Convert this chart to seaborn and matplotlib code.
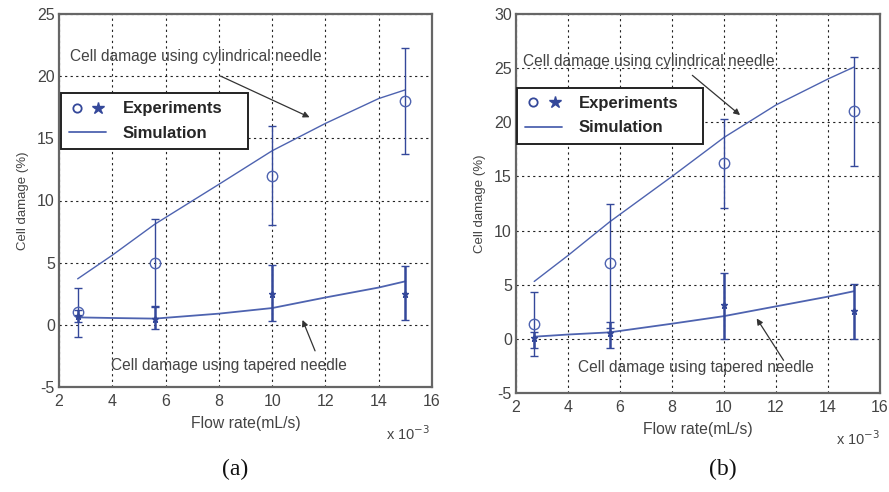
import numpy as np
import pandas as pd
import matplotlib
matplotlib.use("Agg")
import matplotlib.pyplot as plt
import seaborn as sns
from matplotlib.lines import Line2D
from matplotlib.legend_handler import HandlerTuple

sns.set_style("white")
plt.rcParams['font.family'] = ['Liberation Sans', 'DejaVu Sans']
plt.rcParams['axes.unicode_minus'] = False

# ---- data (flow rate in units of 1e-3 mL/s) ----
sim_x = [2.7, 4, 5.6, 8, 10, 12, 14, 15]
exp_x = [2.7, 5.6, 10, 15]

# panel (a)
a_cyl_sim = [3.7, 5.6, 8.1, 11.3, 14.0, 16.2, 18.2, 18.9]
a_tap_sim = [0.6, 0.55, 0.5, 0.9, 1.35, 2.2, 3.0, 3.5]
a_cyl_exp = [1.0, 5.0, 12.0, 18.0]
a_cyl_lo = [-1.0, 1.5, 8.0, 13.7]
a_cyl_hi = [3.0, 8.5, 16.0, 22.3]
a_tap_exp = [0.7, 0.5, 2.5, 2.5]
a_tap_lo = [0.2, -0.3, 0.3, 0.4]
a_tap_hi = [1.2, 1.4, 4.8, 4.7]

# panel (b)
b_cyl_sim = [5.3, 7.7, 10.8, 15.0, 18.6, 21.6, 24.0, 25.1]
b_tap_sim = [0.2, 0.4, 0.6, 1.4, 2.1, 3.0, 3.9, 4.4]
b_cyl_exp = [1.4, 7.0, 16.2, 21.0]
b_cyl_lo = [-1.6, 1.0, 12.1, 16.0]
b_cyl_hi = [4.3, 12.5, 20.3, 26.0]
b_tap_exp = [0.1, 0.5, 3.1, 2.6]
b_tap_lo = [-0.8, -0.8, 0.0, 0.0]
b_tap_hi = [0.6, 1.6, 6.1, 5.1]

x_ticks = [2, 4, 6, 8, 10, 12, 14, 16]
legend_labels = ["Experiments", "Simulation"]

LINE = "#4e63b0"
ERR = "#34489a"
TXT = "#444444"

fig = plt.figure(figsize=(8.89, 4.92), dpi=100)
fig.patch.set_facecolor("white")

panels = [
    dict(rect=[59/889, 1-387/492, 373/889, 373/492], ylim=(-5, 25), yt=[-5, 0, 5, 10, 15, 20, 25],
         cs=a_cyl_sim, ts=a_tap_sim, ce=a_cyl_exp, cl=a_cyl_lo, ch=a_cyl_hi,
         te=a_tap_exp, tl=a_tap_lo, th=a_tap_hi,
         cyl_txt=(2.4, 21.6), cyl_arr=((7.97, 20.1), (11.5, 16.6)),
         tap_txt=(3.95, -3.3), tap_arr=((11.65, -2.3), (11.1, 0.6)),
         leg=(0.005, 0.788), legw=0.502, lab="(a)", labx=235/889,
         ex=(430/889, 1-434/492)),
    dict(rect=[516/889, 1-393/492, 364/889, 379/492], ylim=(-5, 30), yt=[-5, 0, 5, 10, 15, 20, 25, 30],
         cs=b_cyl_sim, ts=b_tap_sim, ce=b_cyl_exp, cl=b_cyl_lo, ch=b_cyl_hi,
         te=b_tap_exp, tl=b_tap_lo, th=b_tap_hi,
         cyl_txt=(2.27, 25.6), cyl_arr=((8.7, 24.5), (10.7, 20.5)),
         tap_txt=(4.4, -2.6), tap_arr=((12.35, -2.2), (11.2, 2.1)),
         leg=(0.003, 0.805), legw=0.511, lab="(b)", labx=723/889,
         ex=(880/889, 1-439/492)),
]

for p in panels:
    ax = fig.add_axes(p["rect"])
    df_c = pd.DataFrame({"x": sim_x, "y": p["cs"]})
    df_t = pd.DataFrame({"x": sim_x, "y": p["ts"]})
    sns.lineplot(data=df_c, x="x", y="y", ax=ax, color=LINE, lw=1.0, zorder=3)
    sns.lineplot(data=df_t, x="x", y="y", ax=ax, color=LINE, lw=1.3, zorder=3)

    ce = np.array(p["ce"]); te = np.array(p["te"])
    ax.errorbar(exp_x, ce, yerr=[ce - np.array(p["cl"]), np.array(p["ch"]) - ce],
                fmt="o", mfc="none", mec=LINE, ms=7.5, mew=1.0, ecolor=ERR,
                elinewidth=1.0, capsize=3, capthick=1.0, zorder=4)
    ax.errorbar(exp_x, te, yerr=[te - np.array(p["tl"]), np.array(p["th"]) - te],
                fmt="*", color=ERR, ms=5, ecolor=ERR,
                elinewidth=1.8, capsize=3, capthick=1.0, zorder=4)

    ax.set_xlim(2, 16)
    ax.set_ylim(*p["ylim"])
    ax.set_xticks(x_ticks)
    ax.set_yticks(p["yt"])
    ax.tick_params(axis="both", labelsize=11.5, colors=TXT, length=3, direction="in")
    ax.tick_params(axis="x", pad=5)
    ax.tick_params(axis="y", pad=3)
    ax.grid(True, color="#222222", linestyle=(0, (2, 3)), linewidth=0.8)
    ax.set_axisbelow(True)
    for s in ax.spines.values():
        s.set_color("#666666")
        s.set_linewidth(1.6)
    ax.set_xlabel("Flow rate(mL/s)", fontsize=11.3, color=TXT, labelpad=5)
    ax.set_ylabel("Cell damage (%)", fontsize=9.5, color=TXT, labelpad=6)

    ax.text(*p["cyl_txt"], "Cell damage using cylindrical needle", fontsize=11.2,
            color=TXT, va="center", ha="left", zorder=5)
    ax.annotate("", xy=p["cyl_arr"][1], xytext=p["cyl_arr"][0],
                arrowprops=dict(arrowstyle="-|>", color="#333333", lw=0.9,
                                mutation_scale=9), zorder=5)
    ax.text(*p["tap_txt"], "Cell damage using tapered needle", fontsize=11.2,
            color=TXT, va="center", ha="left", zorder=5)
    ax.annotate("", xy=p["tap_arr"][1], xytext=p["tap_arr"][0],
                arrowprops=dict(arrowstyle="-|>", color="#333333", lw=0.9,
                                mutation_scale=9), zorder=5)

    h_exp = (Line2D([], [], ls="none", marker="o", mfc="none", mec=ERR, ms=6, mew=1.3),
             Line2D([], [], ls="none", marker="*", color=ERR, ms=9))
    h_sim = Line2D([], [], color=LINE, lw=1.3)
    leg = ax.legend([h_exp, h_sim], legend_labels,
                    handler_map={tuple: HandlerTuple(ndivide=None, pad=0.4)},
                    loc="upper left", bbox_to_anchor=(p["leg"][0], p["leg"][1], p["legw"], 0),
                    mode="expand",
                    prop=dict(family="Liberation Sans", weight="bold", size=12),
                    frameon=True, fancybox=False, borderaxespad=0,
                    handlelength=2.2, handletextpad=1.0, labelspacing=0.55,
                    borderpad=0.5)
    leg.get_frame().set_edgecolor("#222222")
    leg.get_frame().set_linewidth(1.4)
    leg.get_frame().set_alpha(1)
    leg.set_zorder(6)

    fig.text(p["ex"][0], p["ex"][1], r"x 10$^{-3}$", fontsize=10.5, color=TXT,
             ha="right", va="center")
    fig.text(p["labx"], 1-469/492, p["lab"], fontsize=17, family="Liberation Serif",
             ha="center", va="center", color="#111111")

fig.savefig("out.png", dpi=100, facecolor="white")
